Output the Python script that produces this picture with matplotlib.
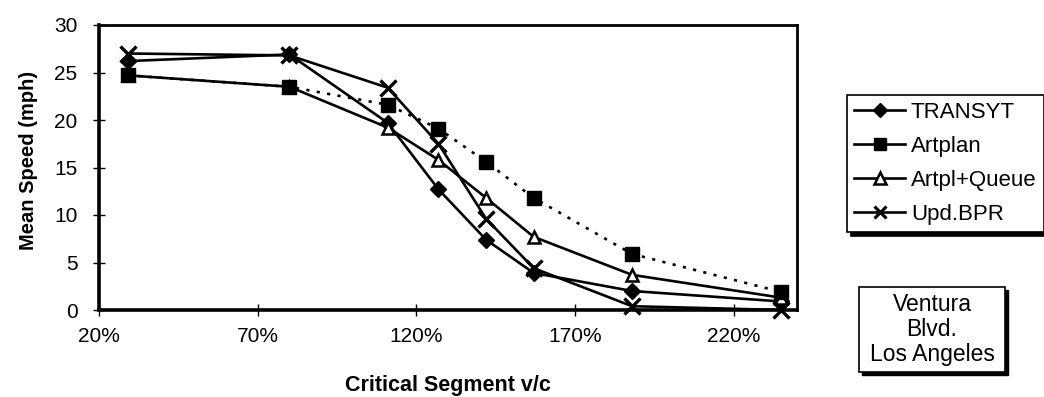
import matplotlib
matplotlib.use("Agg")
import matplotlib.pyplot as plt
from matplotlib.lines import Line2D
from matplotlib.patches import Rectangle
from matplotlib.ticker import FuncFormatter

plt.rcParams['font.family'] = ['Liberation Sans', 'DejaVu Sans']

# Critical segment volume/capacity ratio
vc_ratio = [0.29, 0.80, 1.11, 1.27, 1.42, 1.57, 1.88, 2.35]

# Mean speed (mph) per model
transyt = [26.2, 26.9, 19.7, 12.7, 7.4, 3.9, 2.0, 0.9]
artplan = [24.7, 23.5, 21.6, 19.1, 15.6, 11.8, 5.9, 1.9]
artpl_queue = [24.7, 23.5, 19.2, 15.8, 11.8, 7.7, 3.7, 1.3]
upd_bpr = [27.0, 26.8, 23.4, 17.5, 9.6, 4.4, 0.4, 0.0]

series_names = ["TRANSYT", "Artplan", "Artpl+Queue", "Upd.BPR"]
x_ticks = [0.2, 0.7, 1.2, 1.7, 2.2]
y_ticks = [0, 5, 10, 15, 20, 25, 30]

W, H = 1044, 397
fig = plt.figure(figsize=(W / 100, H / 100), dpi=100)
ax = fig.add_axes([99 / W, 1 - 310 / H, (797 - 99) / W, (310 - 25) / H])

lw = 1.9
ax.plot(vc_ratio, transyt, color='black', lw=lw, marker='D', ms=8,
        mfc='black', mec='black', clip_on=False, zorder=3)
ax.plot(vc_ratio, artpl_queue, color='black', lw=lw, marker='^', ms=9,
        mfc='white', mec='black', mew=1.8, clip_on=False, zorder=3)
ax.plot(vc_ratio, artplan, color='black', lw=lw, ls=(0, (1.2, 2.8)),
        marker='s', ms=10, mfc='black', mec='black', clip_on=False, zorder=4)
ax.plot(vc_ratio, upd_bpr, color='black', lw=lw, marker='x', ms=11,
        mew=2.4, clip_on=False, zorder=5)

ax.set_xlim(0.2, 2.4)
ax.set_ylim(0, 30)
ax.set_xticks(x_ticks)
ax.set_yticks(y_ticks)
ax.xaxis.set_major_formatter(FuncFormatter(lambda v, p: f"{v * 100:.0f}%"))

for s in ax.spines.values():
    s.set_linewidth(2.0)
    s.set_color('black')
ax.spines['left'].set_linewidth(2.6)
ax.spines['bottom'].set_linewidth(2.6)

ax.tick_params(axis='both', direction='inout', length=9, width=1.0,
               colors='black', labelsize=15)
ax.tick_params(axis='x', pad=8)
ax.tick_params(axis='y', pad=11)

fig.text(29 / W, 1 - 160 / H, "Mean Speed (mph)", rotation=90,
         ha='center', va='center', fontsize=14.5, fontweight='bold')
fig.text(448 / W, 1 - 385 / H, "Critical Segment v/c",
         ha='center', va='center', fontsize=15.5, fontweight='bold')

handles = [
    Line2D([], [], color='black', lw=lw, marker='D', ms=7, mfc='black'),
    Line2D([], [], color='black', lw=lw, marker='s', ms=8, mfc='black'),
    Line2D([], [], color='black', lw=lw, marker='^', ms=8, mfc='white', mew=1.8),
    Line2D([], [], color='black', lw=lw, marker='x', ms=9, mew=2.2),
]
leg = fig.legend(handles, series_names, loc='upper left',
                 bbox_to_anchor=(847 / W, 1 - 95 / H), borderaxespad=0,
                 fontsize=16, frameon=True, fancybox=False,
                 shadow={'color': 'black', 'alpha': 1, 'ox': 3, 'oy': -3},
                 handlelength=2.3, handletextpad=0.25, labelspacing=0.58,
                 borderpad=0.32)
leg.get_frame().set_edgecolor('black')
leg.get_frame().set_linewidth(1.2)

# location note box with a drop shadow
bx0, bx1, by0, by1 = 859, 1005, 287, 372
fig.patches.append(Rectangle((bx0 / W + 3 / W, 1 - by1 / H - 3 / H),
                             (bx1 - bx0) / W, (by1 - by0) / H,
                             transform=fig.transFigure, facecolor='black',
                             edgecolor='black', zorder=1))
fig.patches.append(Rectangle((bx0 / W, 1 - by1 / H), (bx1 - bx0) / W,
                             (by1 - by0) / H, transform=fig.transFigure,
                             facecolor='white', edgecolor='black', lw=1.2,
                             zorder=2))
fig.text((bx0 + bx1) / 2 / W, 1 - (by0 + by1) / 2 / H,
         "Ventura\nBlvd.\nLos Angeles", ha='center', va='center',
         fontsize=16.5, linespacing=1.12, zorder=3)

fig.savefig("out.png", dpi=100)
